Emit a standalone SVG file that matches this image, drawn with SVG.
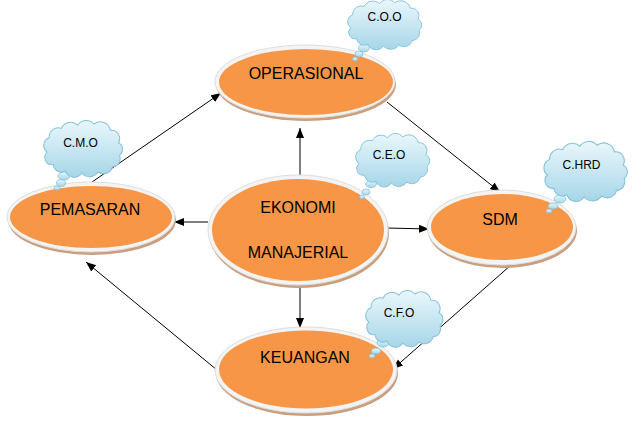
<svg xmlns="http://www.w3.org/2000/svg" xmlns:xlink="http://www.w3.org/1999/xlink" width="641" height="433" viewBox="0 0 641 433">
<defs>
<linearGradient id="cg" x1="0" y1="0" x2="0" y2="1">
<stop offset="0" stop-color="#eaf7fc"/>
<stop offset="1" stop-color="#a6d6e8"/>
</linearGradient>
<path id="cloud" d="M 6,30 A 8,8 0 0 1 8,16 A 9,9 0 0 1 20,7 A 10,10 0 0 1 36,4 A 10,10 0 0 1 52,3 A 10,10 0 0 1 68,9 A 8,8 0 0 1 76,21 A 7,7 0 0 1 77,33 A 8,8 0 0 1 70,44 A 9,9 0 0 1 56,49 A 10,10 0 0 1 40,50 A 9,9 0 0 1 24,48 A 8,8 0 0 1 12,42 A 7,7 0 0 1 6,30 Z"/>
<marker id="arr" markerUnits="userSpaceOnUse" markerWidth="11" markerHeight="9" refX="10" refY="4" orient="auto">
<path d="M0,0 L10,4 L0,8 z" fill="#000"/>
</marker>
</defs>
<style>
.shadow{fill:#c99f80}
.rim{fill:#f4f4f4;stroke:#dedede;stroke-width:1}
.body{fill:#f79646}
.lbl{font-family:"Liberation Sans",Arial,sans-serif;font-size:16px;fill:#000;text-anchor:middle}
.cl{fill:url(#cg);stroke:#86c2d8;stroke-width:1;vector-effect:non-scaling-stroke}
.bub{fill:url(#cg);stroke:#86c2d8;stroke-width:0.8}
.ct{font-family:"Liberation Sans",Arial,sans-serif;font-size:12px;fill:#000;text-anchor:middle}
.con line{stroke:#000;stroke-width:1;marker-end:url(#arr)}
</style>
<rect width="641" height="433" fill="#fff"/>

<g id="connectors" class="con">
<line x1="92" y1="182" x2="221" y2="93"/>
<line x1="300" y1="175" x2="300" y2="128"/>
<line x1="387" y1="102" x2="500" y2="192"/>
<line x1="387" y1="228" x2="429" y2="229"/>
<line x1="208" y1="222" x2="174" y2="222"/>
<line x1="300" y1="285" x2="300" y2="328"/>
<line x1="511" y1="265" x2="393" y2="369"/>
<line x1="217" y1="370" x2="86" y2="262"/>
</g>

<g id="operasional">
<ellipse class="shadow" cx="306" cy="84.5" rx="90" ry="36.5"/>
<ellipse class="rim" cx="305" cy="81.5" rx="90" ry="36.5"/>
<ellipse class="body" cx="306" cy="82" rx="87" ry="33"/>
<text class="lbl" x="306" y="79">OPERASIONAL</text>
</g>

<g id="pemasaran">
<ellipse class="shadow" cx="92" cy="220" rx="84" ry="35"/>
<ellipse class="rim" cx="91" cy="217" rx="84" ry="35"/>
<ellipse class="body" cx="91" cy="217" rx="81" ry="31"/>
<text class="lbl" x="90" y="215">PEMASARAN</text>
</g>

<g id="ekonomi-manajerial">
<ellipse class="shadow" cx="299" cy="233" rx="90" ry="55"/>
<ellipse class="rim" cx="298" cy="230" rx="90" ry="55"/>
<ellipse class="body" cx="298" cy="230" rx="86" ry="51"/>
<text class="lbl" x="298" y="213">EKONOMI</text>
<text class="lbl" x="298" y="258">MANAJERIAL</text>
</g>

<g id="sdm">
<ellipse class="shadow" cx="502.5" cy="230.5" rx="74.5" ry="37.5"/>
<ellipse class="rim" cx="501.5" cy="227.5" rx="74.5" ry="37.5"/>
<ellipse class="body" cx="502" cy="227" rx="71" ry="33"/>
<text class="lbl" x="500" y="225">SDM</text>
</g>

<g id="keuangan">
<ellipse class="shadow" cx="307" cy="373" rx="91" ry="43"/>
<ellipse class="rim" cx="306" cy="370" rx="91" ry="43"/>
<ellipse class="body" cx="306" cy="369.5" rx="87" ry="39"/>
<text class="lbl" x="305" y="363">KEUANGAN</text>
</g>

<g id="cloud-coo">
<ellipse class="bub" cx="355" cy="59" rx="2.5" ry="2"/>
<ellipse class="bub" cx="359" cy="54" rx="4" ry="3"/>
<ellipse class="bub" cx="364" cy="48" rx="5.5" ry="4"/>
<use xlink:href="#cloud" class="cl" transform="translate(345,0) scale(0.96,0.92)"/>
<text class="ct" x="384.5" y="21">C.O.O</text>
</g>

<g id="cloud-cmo">
<ellipse class="bub" cx="57" cy="188" rx="3" ry="2"/>
<ellipse class="bub" cx="61" cy="183" rx="4.5" ry="3.5"/>
<ellipse class="bub" cx="64" cy="176" rx="6" ry="4"/>
<use xlink:href="#cloud" class="cl" transform="translate(41,121) scale(1.02,1.04)"/>
<text class="ct" x="80.5" y="147">C.M.O</text>
</g>

<g id="cloud-ceo">
<ellipse class="bub" cx="362" cy="197" rx="2.5" ry="2"/>
<ellipse class="bub" cx="366" cy="192" rx="4" ry="3"/>
<ellipse class="bub" cx="371" cy="184" rx="5.5" ry="3.5"/>
<use xlink:href="#cloud" class="cl" transform="translate(353,134) scale(0.96,0.98)"/>
<text class="ct" x="389" y="158.5">C.E.O</text>
</g>

<g id="cloud-chrd">
<ellipse class="bub" cx="549" cy="211" rx="3" ry="2"/>
<ellipse class="bub" cx="553" cy="206" rx="5" ry="3"/>
<ellipse class="bub" cx="560" cy="199" rx="6" ry="4"/>
<use xlink:href="#cloud" class="cl" transform="translate(541,142) scale(1.08,1.1)"/>
<text class="ct" x="581.5" y="169">C.HRD</text>
</g>

<g id="cloud-cfo">
<ellipse class="bub" cx="372" cy="356" rx="3" ry="2"/>
<ellipse class="bub" cx="376" cy="351" rx="4.5" ry="3"/>
<ellipse class="bub" cx="383" cy="343" rx="6" ry="4"/>
<use xlink:href="#cloud" class="cl" transform="translate(363,291) scale(1,1.04)"/>
<text class="ct" x="399" y="317">C.F.O</text>
</g>
</svg>
